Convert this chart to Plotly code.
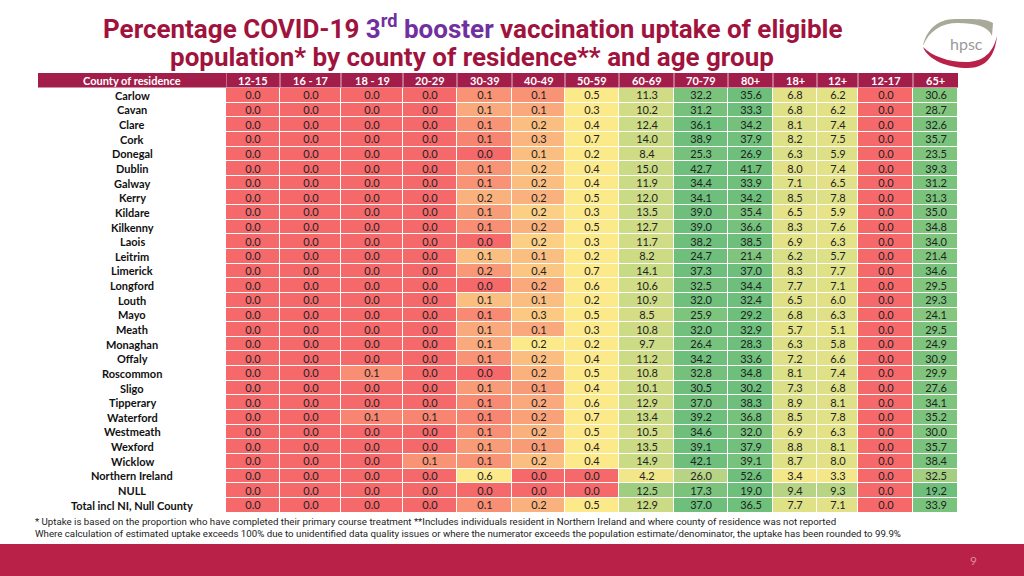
import numpy as np
import plotly.graph_objects as go

counties = ["Carlow", "Cavan", "Clare", "Cork", "Donegal", "Dublin", "Galway", "Kerry",
            "Kildare", "Kilkenny", "Laois", "Leitrim", "Limerick", "Longford", "Louth",
            "Mayo", "Meath", "Monaghan", "Offaly", "Roscommon", "Sligo", "Tipperary",
            "Waterford", "Westmeath", "Wexford", "Wicklow", "Northern Ireland", "NULL",
            "Total incl NI, Null County"]

age_groups = ["12-15", "16 - 17", "18 - 19", "20-29", "30-39", "40-49", "50-59",
              "60-69", "70-79", "80+", "18+", "12+", "12-17", "65+"]

a12_15 = [0.0, 0.0, 0.0, 0.0, 0.0, 0.0, 0.0, 0.0, 0.0, 0.0, 0.0, 0.0, 0.0, 0.0, 0.0,
          0.0, 0.0, 0.0, 0.0, 0.0, 0.0, 0.0, 0.0, 0.0, 0.0, 0.0, 0.0, 0.0, 0.0]
a16_17 = [0.0, 0.0, 0.0, 0.0, 0.0, 0.0, 0.0, 0.0, 0.0, 0.0, 0.0, 0.0, 0.0, 0.0, 0.0,
          0.0, 0.0, 0.0, 0.0, 0.0, 0.0, 0.0, 0.0, 0.0, 0.0, 0.0, 0.0, 0.0, 0.0]
a18_19 = [0.0, 0.0, 0.0, 0.0, 0.0, 0.0, 0.0, 0.0, 0.0, 0.0, 0.0, 0.0, 0.0, 0.0, 0.0,
          0.0, 0.0, 0.0, 0.0, 0.1, 0.0, 0.0, 0.1, 0.0, 0.0, 0.0, 0.0, 0.0, 0.0]
a20_29 = [0.0, 0.0, 0.0, 0.0, 0.0, 0.0, 0.0, 0.0, 0.0, 0.0, 0.0, 0.0, 0.0, 0.0, 0.0,
          0.0, 0.0, 0.0, 0.0, 0.0, 0.0, 0.0, 0.1, 0.0, 0.0, 0.1, 0.0, 0.0, 0.0]
a30_39 = [0.1, 0.1, 0.1, 0.1, 0.0, 0.1, 0.1, 0.2, 0.1, 0.1, 0.0, 0.1, 0.2, 0.0, 0.1,
          0.1, 0.1, 0.1, 0.1, 0.0, 0.1, 0.1, 0.1, 0.1, 0.1, 0.1, 0.6, 0.0, 0.1]
a40_49 = [0.1, 0.1, 0.2, 0.3, 0.1, 0.2, 0.2, 0.2, 0.2, 0.2, 0.2, 0.1, 0.4, 0.2, 0.1,
          0.3, 0.1, 0.2, 0.2, 0.2, 0.1, 0.2, 0.2, 0.2, 0.1, 0.2, 0.0, 0.0, 0.2]
a50_59 = [0.5, 0.3, 0.4, 0.7, 0.2, 0.4, 0.4, 0.5, 0.3, 0.5, 0.3, 0.2, 0.7, 0.6, 0.2,
          0.5, 0.3, 0.2, 0.4, 0.5, 0.4, 0.6, 0.7, 0.5, 0.4, 0.4, 0.0, 0.0, 0.5]
a60_69 = [11.3, 10.2, 12.4, 14.0, 8.4, 15.0, 11.9, 12.0, 13.5, 12.7, 11.7, 8.2, 14.1, 10.6,
          10.9, 8.5, 10.8, 9.7, 11.2, 10.8, 10.1, 12.9, 13.4, 10.5, 13.5, 14.9, 4.2, 12.5, 12.9]
a70_79 = [32.2, 31.2, 36.1, 38.9, 25.3, 42.7, 34.4, 34.1, 39.0, 39.0, 38.2, 24.7, 37.3, 32.5,
          32.0, 25.9, 32.0, 26.4, 34.2, 32.8, 30.5, 37.0, 39.2, 34.6, 39.1, 42.1, 26.0, 17.3, 37.0]
a80p = [35.6, 33.3, 34.2, 37.9, 26.9, 41.7, 33.9, 34.2, 35.4, 36.6, 38.5, 21.4, 37.0, 34.4,
        32.4, 29.2, 32.9, 28.3, 33.6, 34.8, 30.2, 38.3, 36.8, 32.0, 37.9, 39.1, 52.6, 19.0, 36.5]
a18p = [6.8, 6.8, 8.1, 8.2, 6.3, 8.0, 7.1, 8.5, 6.5, 8.3, 6.9, 6.2, 8.3, 7.7, 6.5,
        6.8, 5.7, 6.3, 7.2, 8.1, 7.3, 8.9, 8.5, 6.9, 8.8, 8.7, 3.4, 9.4, 7.7]
a12p = [6.2, 6.2, 7.4, 7.5, 5.9, 7.4, 6.5, 7.8, 5.9, 7.6, 6.3, 5.7, 7.7, 7.1, 6.0,
        6.3, 5.1, 5.8, 6.6, 7.4, 6.8, 8.1, 7.8, 6.3, 8.1, 8.0, 3.3, 9.3, 7.1]
a12_17 = [0.0, 0.0, 0.0, 0.0, 0.0, 0.0, 0.0, 0.0, 0.0, 0.0, 0.0, 0.0, 0.0, 0.0, 0.0,
          0.0, 0.0, 0.0, 0.0, 0.0, 0.0, 0.0, 0.0, 0.0, 0.0, 0.0, 0.0, 0.0, 0.0]
a65p = [30.6, 28.7, 32.6, 35.7, 23.5, 39.3, 31.2, 31.3, 35.0, 34.8, 34.0, 21.4, 34.6, 29.5,
        29.3, 24.1, 29.5, 24.9, 30.9, 29.9, 27.6, 34.1, 35.2, 30.0, 35.7, 38.4, 32.5, 19.2, 33.9]

columns = [a12_15, a16_17, a18_19, a20_29, a30_39, a40_49, a50_59,
           a60_69, a70_79, a80p, a18p, a12p, a12_17, a65p]

# ---- layout constants (pixel positions of the table) ----
W, H = 1024, 576
col_edges = [226, 280, 341, 403, 457, 512, 565, 619, 674, 728, 773, 817, 858, 913, 958]
table_left = 38
head_top, head_bot = 73, 87.5
body_top, body_bot = 88, 512.5
label_x = 132

CRIMSON_TITLE = "#9F133D"
CRIMSON_HEAD = "#A31D4A"
CRIMSON_BAND = "#B92148"

vals = np.array(columns, dtype=float).T  # rows x cols

# Excel-like 3-colour scale applied per row (min red, median yellow, max green)
z = np.zeros_like(vals)
for i, row in enumerate(vals):
    mn, md, mx = row.min(), np.median(row), row.max()
    for j, v in enumerate(row):
        if v <= md:
            z[i, j] = 0.0 if md == mn else 0.5 * (v - mn) / (md - mn)
        else:
            z[i, j] = 0.5 if mx == md else 0.5 + 0.5 * (v - md) / (mx - md)

text = [[f"{v:.1f}" for v in row] for row in vals]

fig = go.Figure()
fig.add_trace(go.Heatmap(
    z=z, x=col_edges, y=list(range(len(counties))),
    text=text, texttemplate="%{text}",
    textfont=dict(family="Lato", size=11, color="#222222"),
    colorscale=[[0, "#F6696B"], [0.5, "#FCE98A"], [1, "#6DBF7B"]],
    zmin=0, zmax=1, showscale=False, xgap=1, ygap=1, hoverinfo="skip",
))

fig.update_xaxes(range=[col_edges[0], col_edges[-1]],
                 domain=[col_edges[0] / W, col_edges[-1] / W], visible=False, fixedrange=True)
fig.update_yaxes(range=[len(counties) - 0.5, -0.5],
                 domain=[1 - body_bot / H, 1 - body_top / H], visible=False, fixedrange=True)

shapes = []
annotations = []

# header bar
shapes.append(dict(type="rect", xref="paper", yref="paper",
                   x0=table_left / W, x1=col_edges[-1] / W,
                   y0=1 - head_bot / H, y1=1 - head_top / H,
                   fillcolor=CRIMSON_HEAD, line=dict(width=0), layer="below"))
for e in col_edges[:-1]:
    shapes.append(dict(type="line", xref="x", yref="paper", x0=e, x1=e,
                       y0=1 - head_bot / H, y1=1 - head_top / H,
                       line=dict(color="rgba(255,255,255,0.7)", width=1)))

head_y = 1 - (head_top + head_bot) / 2 / H
annotations.append(dict(text="<b>County of residence</b>", xref="paper", yref="paper",
                        x=label_x / W, y=head_y, showarrow=False, xanchor="center", yanchor="middle",
                        font=dict(family="Lato", size=11, color="white")))
for j, g in enumerate(age_groups):
    cx = (col_edges[j] + col_edges[j + 1]) / 2
    annotations.append(dict(text=f"<b>{g}</b>", xref="x", yref="paper", x=cx, y=head_y,
                            showarrow=False, xanchor="center", yanchor="middle",
                            font=dict(family="Lato", size=11, color="white")))

# row labels
for i, c in enumerate(counties):
    annotations.append(dict(text=f"<b>{c}</b>", xref="paper", yref="y", x=label_x / W, y=i,
                            showarrow=False, xanchor="center", yanchor="middle",
                            font=dict(family="Lato", size=11, color="#111111")))

# title
annotations.append(dict(
    text="<b>Percentage COVID-19 <span style='color:#7030A0'>3<sup>rd</sup> booster</span> vaccination uptake of eligible</b>",
    xref="paper", yref="paper", x=472 / W, y=1 - 27 / H, showarrow=False,
    xanchor="center", yanchor="middle",
    font=dict(family="Roboto", size=26, color=CRIMSON_TITLE)))
annotations.append(dict(
    text="<b>population* by county of residence** and age group</b>",
    xref="paper", yref="paper", x=472 / W, y=1 - 57 / H, showarrow=False,
    xanchor="center", yanchor="middle",
    font=dict(family="Roboto", size=26, color=CRIMSON_TITLE)))

# footnotes
annotations.append(dict(
    text="* Uptake is based on the proportion who have completed their primary course treatment **Includes individuals resident in Northern Ireland and where county of residence was not reported",
    xref="paper", yref="paper", x=33 / W, y=1 - 521 / H, showarrow=False,
    xanchor="left", yanchor="middle", font=dict(family="Roboto", size=9.7, color="#222222")))
annotations.append(dict(
    text="Where calculation of estimated uptake exceeds 100% due to unidentified data quality issues or where the numerator exceeds the population estimate/denominator, the uptake has been rounded to 99.9%",
    xref="paper", yref="paper", x=33 / W, y=1 - 533 / H, showarrow=False,
    xanchor="left", yanchor="middle", font=dict(family="Roboto", size=9.7, color="#222222")))

# bottom band + page number
shapes.append(dict(type="rect", xref="paper", yref="paper", x0=0, x1=1, y0=0, y1=1 - 544 / H,
                   fillcolor=CRIMSON_BAND, line=dict(width=0), layer="below"))
annotations.append(dict(text="9", xref="paper", yref="paper", x=973 / W, y=1 - 560 / H,
                        showarrow=False, xanchor="center", yanchor="middle",
                        font=dict(family="Lato", size=12, color="#D98A9C")))


# logo (hpsc swoosh)
def px(x, y):
    return f"{x / W:.5f},{1 - y / H:.5f}"


shapes.append(dict(type="path", xref="paper", yref="paper",
                   path=f"M {px(923, 46)} C {px(926, 30)} {px(938, 19)} {px(955, 19)} "
                        f"C {px(972, 19)} {px(986, 18)} {px(993, 23)} L {px(992, 36)} "
                        f"C {px(988, 26)} {px(975, 23)} {px(958, 23)} "
                        f"C {px(941, 23)} {px(929, 31)} {px(923, 46)} Z",
                   fillcolor="#A9A99A", line=dict(width=0)))
shapes.append(dict(type="path", xref="paper", yref="paper",
                   path=f"M {px(923, 47)} C {px(928, 60)} {px(948, 68)} {px(968, 68)} "
                        f"C {px(986, 68)} {px(995, 56)} {px(997, 36)} "
                        f"C {px(993, 53)} {px(983, 62)} {px(966, 62)} "
                        f"C {px(948, 62)} {px(932, 56)} {px(923, 47)} Z",
                   fillcolor="#B92148", line=dict(width=0)))
annotations.append(dict(text="hpsc", xref="paper", yref="paper", x=966 / W, y=1 - 43 / H,
                        showarrow=False, xanchor="center", yanchor="middle",
                        font=dict(family="Lato", size=16, color="#9A9A9A")))

fig.update_layout(
    width=W, height=H, margin=dict(l=0, r=0, t=0, b=0),
    paper_bgcolor="white", plot_bgcolor="white",
    shapes=shapes, annotations=annotations, showlegend=False,
)

fig.write_html("out.html", config={"displayModeBar": False},
               post_script="document.body.style.margin='0';")
